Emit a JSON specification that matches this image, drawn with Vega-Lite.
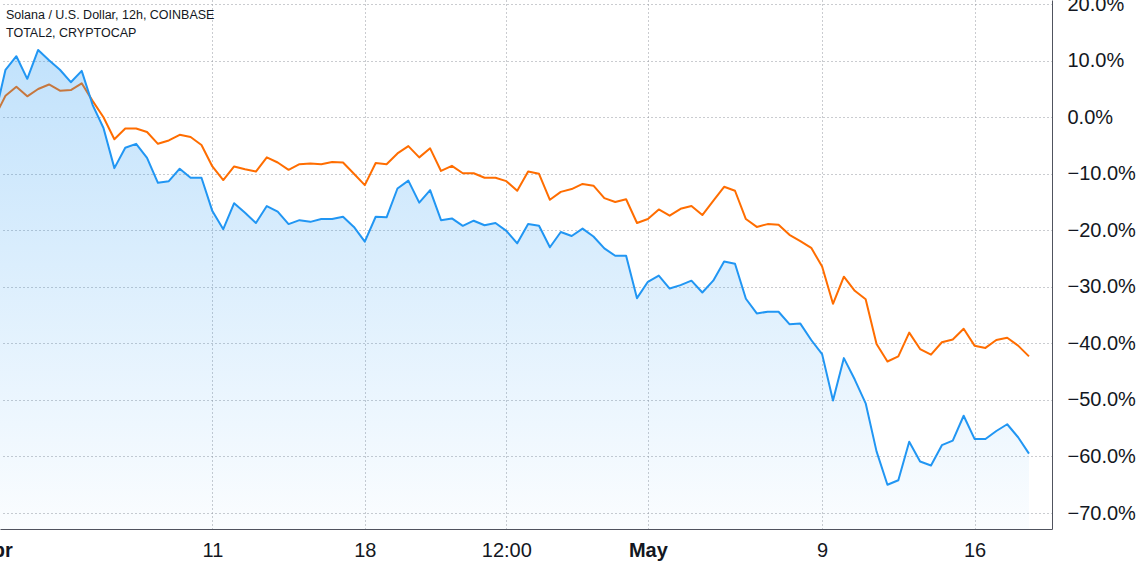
{
  "$schema": "https://vega.github.io/schema/vega-lite/v6.json",
  "width": 1052,
  "height": 529,
  "autosize": {"type": "none"},
  "padding": {"left": 0, "top": 0, "right": 87, "bottom": 43},
  "background": "#ffffff",
  "title": {
    "text": "Solana / U.S. Dollar, 12h, COINBASE",
    "subtitle": "TOTAL2, CRYPTOCAP",
    "anchor": "start",
    "frame": "group",
    "orient": "top",
    "offset": -45,
    "dx": 6,
    "font": "Liberation Sans",
    "subtitleFont": "Liberation Sans",
    "fontSize": 12.5,
    "subtitleFontSize": 12.5,
    "fontWeight": "normal",
    "color": "#131722",
    "subtitleColor": "#131722",
    "subtitlePadding": 5
  },
  "config": {
    "view": {"stroke": null},
    "axis": {
      "labelFont": "Liberation Sans",
      "labelFontSize": 20,
      "labelColor": "#131722",
      "domainColor": "#50535e",
      "domainWidth": 1,
      "ticks": false,
      "tickSize": 0,
      "grid": true,
      "gridColor": "#9598a1",
      "gridDash": [1, 3],
      "gridWidth": 1,
      "title": null,
      "labelOverlap": false,
      "labelFlush": false
    }
  },
  "data": {
    "values": [
      {"t": "2022-04-01T00:00:00Z", "sol": 0, "tot": 0},
      {"t": "2022-04-01T12:00:00Z", "sol": 8.4, "tot": 3.8},
      {"t": "2022-04-02T00:00:00Z", "sol": 10.8, "tot": 5.4},
      {"t": "2022-04-02T12:00:00Z", "sol": 6.8, "tot": 3.7},
      {"t": "2022-04-03T00:00:00Z", "sol": 11.9, "tot": 5.0},
      {"t": "2022-04-03T12:00:00Z", "sol": 10.1, "tot": 5.8},
      {"t": "2022-04-04T00:00:00Z", "sol": 8.4, "tot": 4.7},
      {"t": "2022-04-04T12:00:00Z", "sol": 6.2, "tot": 4.8},
      {"t": "2022-04-05T00:00:00Z", "sol": 8.2, "tot": 6.0},
      {"t": "2022-04-05T12:00:00Z", "sol": 2.2, "tot": 2.9},
      {"t": "2022-04-06T00:00:00Z", "sol": -1.9, "tot": 0.0},
      {"t": "2022-04-06T12:00:00Z", "sol": -9.0, "tot": -3.9},
      {"t": "2022-04-07T00:00:00Z", "sol": -5.4, "tot": -2.0},
      {"t": "2022-04-07T12:00:00Z", "sol": -4.7, "tot": -2.0},
      {"t": "2022-04-08T00:00:00Z", "sol": -7.2, "tot": -2.6},
      {"t": "2022-04-08T12:00:00Z", "sol": -11.6, "tot": -4.7},
      {"t": "2022-04-09T00:00:00Z", "sol": -11.3, "tot": -4.1},
      {"t": "2022-04-09T12:00:00Z", "sol": -9.1, "tot": -3.1},
      {"t": "2022-04-10T00:00:00Z", "sol": -10.7, "tot": -3.5},
      {"t": "2022-04-10T12:00:00Z", "sol": -10.7, "tot": -4.9},
      {"t": "2022-04-11T00:00:00Z", "sol": -16.6, "tot": -8.7},
      {"t": "2022-04-11T12:00:00Z", "sol": -19.8, "tot": -11.1},
      {"t": "2022-04-12T00:00:00Z", "sol": -15.2, "tot": -8.7},
      {"t": "2022-04-12T12:00:00Z", "sol": -16.9, "tot": -9.2},
      {"t": "2022-04-13T00:00:00Z", "sol": -18.7, "tot": -9.6},
      {"t": "2022-04-13T12:00:00Z", "sol": -15.7, "tot": -7.1},
      {"t": "2022-04-14T00:00:00Z", "sol": -16.7, "tot": -8.0},
      {"t": "2022-04-14T12:00:00Z", "sol": -18.9, "tot": -9.3},
      {"t": "2022-04-15T00:00:00Z", "sol": -18.2, "tot": -8.3},
      {"t": "2022-04-15T12:00:00Z", "sol": -18.5, "tot": -8.2},
      {"t": "2022-04-16T00:00:00Z", "sol": -18.0, "tot": -8.3},
      {"t": "2022-04-16T12:00:00Z", "sol": -18.0, "tot": -7.9},
      {"t": "2022-04-17T00:00:00Z", "sol": -17.6, "tot": -8.0},
      {"t": "2022-04-17T12:00:00Z", "sol": -19.4, "tot": -10.0},
      {"t": "2022-04-18T00:00:00Z", "sol": -22.0, "tot": -12.0},
      {"t": "2022-04-18T12:00:00Z", "sol": -17.6, "tot": -8.1},
      {"t": "2022-04-19T00:00:00Z", "sol": -17.7, "tot": -8.3},
      {"t": "2022-04-19T12:00:00Z", "sol": -12.6, "tot": -6.4},
      {"t": "2022-04-20T00:00:00Z", "sol": -11.2, "tot": -5.1},
      {"t": "2022-04-20T12:00:00Z", "sol": -15.1, "tot": -7.1},
      {"t": "2022-04-21T00:00:00Z", "sol": -12.9, "tot": -5.5},
      {"t": "2022-04-21T12:00:00Z", "sol": -18.2, "tot": -9.5},
      {"t": "2022-04-22T00:00:00Z", "sol": -17.9, "tot": -8.6},
      {"t": "2022-04-22T12:00:00Z", "sol": -19.2, "tot": -9.9},
      {"t": "2022-04-23T00:00:00Z", "sol": -18.3, "tot": -9.9},
      {"t": "2022-04-23T12:00:00Z", "sol": -19.1, "tot": -10.7},
      {"t": "2022-04-24T00:00:00Z", "sol": -18.7, "tot": -10.7},
      {"t": "2022-04-24T12:00:00Z", "sol": -20.1, "tot": -11.3},
      {"t": "2022-04-25T00:00:00Z", "sol": -22.3, "tot": -13.0},
      {"t": "2022-04-25T12:00:00Z", "sol": -18.9, "tot": -9.6},
      {"t": "2022-04-26T00:00:00Z", "sol": -19.2, "tot": -10.0},
      {"t": "2022-04-26T12:00:00Z", "sol": -23.0, "tot": -14.6},
      {"t": "2022-04-27T00:00:00Z", "sol": -20.3, "tot": -13.2},
      {"t": "2022-04-27T12:00:00Z", "sol": -21.0, "tot": -12.7},
      {"t": "2022-04-28T00:00:00Z", "sol": -19.7, "tot": -11.8},
      {"t": "2022-04-28T12:00:00Z", "sol": -21.1, "tot": -12.1},
      {"t": "2022-04-29T00:00:00Z", "sol": -23.2, "tot": -14.3},
      {"t": "2022-04-29T12:00:00Z", "sol": -24.5, "tot": -15.0},
      {"t": "2022-04-30T00:00:00Z", "sol": -24.5, "tot": -14.5},
      {"t": "2022-04-30T12:00:00Z", "sol": -32.0, "tot": -18.7},
      {"t": "2022-05-01T00:00:00Z", "sol": -29.1, "tot": -18.0},
      {"t": "2022-05-01T12:00:00Z", "sol": -28.0, "tot": -16.3},
      {"t": "2022-05-02T00:00:00Z", "sol": -30.3, "tot": -17.4},
      {"t": "2022-05-02T12:00:00Z", "sol": -29.7, "tot": -16.2},
      {"t": "2022-05-03T00:00:00Z", "sol": -28.9, "tot": -15.7},
      {"t": "2022-05-03T12:00:00Z", "sol": -31.0, "tot": -17.3},
      {"t": "2022-05-04T00:00:00Z", "sol": -28.9, "tot": -14.8},
      {"t": "2022-05-04T12:00:00Z", "sol": -25.5, "tot": -12.3},
      {"t": "2022-05-05T00:00:00Z", "sol": -25.9, "tot": -13.0},
      {"t": "2022-05-05T12:00:00Z", "sol": -32.1, "tot": -18.0},
      {"t": "2022-05-06T00:00:00Z", "sol": -34.7, "tot": -19.4},
      {"t": "2022-05-06T12:00:00Z", "sol": -34.4, "tot": -18.9},
      {"t": "2022-05-07T00:00:00Z", "sol": -34.4, "tot": -19.0},
      {"t": "2022-05-07T12:00:00Z", "sol": -36.6, "tot": -20.8},
      {"t": "2022-05-08T00:00:00Z", "sol": -36.5, "tot": -21.9},
      {"t": "2022-05-08T12:00:00Z", "sol": -39.4, "tot": -23.1},
      {"t": "2022-05-09T00:00:00Z", "sol": -41.9, "tot": -26.4},
      {"t": "2022-05-09T12:00:00Z", "sol": -50.1, "tot": -33.0},
      {"t": "2022-05-10T00:00:00Z", "sol": -42.6, "tot": -28.2},
      {"t": "2022-05-10T12:00:00Z", "sol": -46.4, "tot": -30.7},
      {"t": "2022-05-11T00:00:00Z", "sol": -50.6, "tot": -32.2},
      {"t": "2022-05-11T12:00:00Z", "sol": -59.1, "tot": -40.1},
      {"t": "2022-05-12T00:00:00Z", "sol": -65.0, "tot": -43.2},
      {"t": "2022-05-12T12:00:00Z", "sol": -64.2, "tot": -42.3},
      {"t": "2022-05-13T00:00:00Z", "sol": -57.4, "tot": -38.1},
      {"t": "2022-05-13T12:00:00Z", "sol": -60.9, "tot": -41.0},
      {"t": "2022-05-14T00:00:00Z", "sol": -61.6, "tot": -42.0},
      {"t": "2022-05-14T12:00:00Z", "sol": -58.0, "tot": -39.8},
      {"t": "2022-05-15T00:00:00Z", "sol": -57.2, "tot": -39.3},
      {"t": "2022-05-15T12:00:00Z", "sol": -52.8, "tot": -37.4},
      {"t": "2022-05-16T00:00:00Z", "sol": -56.9, "tot": -40.4},
      {"t": "2022-05-16T12:00:00Z", "sol": -56.9, "tot": -40.8},
      {"t": "2022-05-17T00:00:00Z", "sol": -55.5, "tot": -39.4},
      {"t": "2022-05-17T12:00:00Z", "sol": -54.3, "tot": -39.0},
      {"t": "2022-05-18T00:00:00Z", "sol": -56.6, "tot": -40.4},
      {"t": "2022-05-18T12:00:00Z", "sol": -59.5, "tot": -42.3}
    ]
  },
  "encoding": {
    "x": {
      "field": "t",
      "type": "temporal",
      "scale": {"type": "utc", "domain": [1648792620000, 1652966520000], "nice": false},
      "axis": {
        "orient": "bottom",
        "values": [1648792800000, 1649635200000, 1650240000000, 1650801600000, 1651363200000, 1652054400000, 1652659200000],
        "labelExpr": "utcdate(datum.value) == 1 ? utcFormat(datum.value, '%b') : (utchours(datum.value) == 12 ? '12:00' : '' + utcdate(datum.value))",
        "labelFontWeight": {"condition": {"test": "utcdate(datum.value) == 1", "value": "bold"}, "value": "normal"},
        "labelOffset": {"condition": {"test": "utcdate(datum.value) == 1 && utcmonth(datum.value) == 3", "value": -5}, "value": 0},
        "gridOpacity": {"condition": {"test": "utcdate(datum.value) == 1 && utcmonth(datum.value) == 3", "value": 0}, "value": 1},
        "labelPadding": 11,
        "labelBaseline": "top"
      }
    }
  },
  "layer": [
    {
      "mark": {"type": "rule", "color": "#b2b5be", "strokeWidth": 1},
      "encoding": {
        "y": {
          "datum": 0,
          "type": "quantitative",
          "scale": {"domain": [-72.83, 20.74], "nice": false, "zero": false},
          "axis": {
            "orient": "right",
            "values": [-70, -60, -50, -40, -30, -20, -10, 0, 10, 20],
            "labelExpr": "format(datum.value, '.1f') + '%'",
            "labelPadding": 15,
            "labelAlign": "left",
            "title": null
          }
        }
      }
    },
    {
      "mark": {"type": "line", "color": "#ff6d00", "strokeWidth": 2, "strokeJoin": "round"},
      "encoding": {"y": {"field": "tot", "type": "quantitative", "title": null}}
    },
    {
      "mark": {
        "type": "area",
        "fill": {
          "gradient": "linear",
          "x1": 0, "y1": 0, "x2": 0, "y2": 1,
          "stops": [
            {"offset": 0, "color": "rgba(33,150,243,0.28)"},
            {"offset": 1, "color": "rgba(33,150,243,0.02)"}
          ]
        },
        "fillOpacity": 1
      },
      "encoding": {
        "y": {"field": "sol", "type": "quantitative", "title": null},
        "y2": {"datum": -72.83}
      }
    },
    {
      "mark": {"type": "line", "color": "#2196f3", "strokeWidth": 2, "strokeJoin": "round"},
      "encoding": {"y": {"field": "sol", "type": "quantitative", "title": null}}
    }
  ]
}
